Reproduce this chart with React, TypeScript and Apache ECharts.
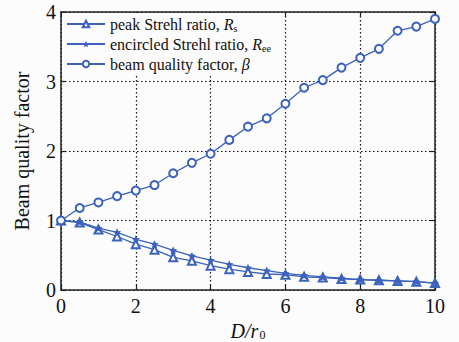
import React, { useEffect, useRef } from "react";
import * as echarts from "echarts";

const xValues = [0, 0.5, 1, 1.5, 2, 2.5, 3, 3.5, 4, 4.5, 5, 5.5, 6, 6.5, 7, 7.5, 8, 8.5, 9, 9.5, 10];
const peakStrehl = [1.0, 0.97, 0.87, 0.77, 0.66, 0.58, 0.47, 0.42, 0.35, 0.30, 0.26, 0.23, 0.22, 0.19, 0.18, 0.16, 0.15, 0.14, 0.13, 0.12, 0.10];
const encircledStrehl = [1.0, 0.98, 0.89, 0.83, 0.73, 0.66, 0.57, 0.49, 0.43, 0.37, 0.32, 0.28, 0.24, 0.21, 0.19, 0.17, 0.15, 0.14, 0.13, 0.12, 0.10];
const beamQuality = [1.0, 1.18, 1.26, 1.35, 1.43, 1.51, 1.68, 1.83, 1.96, 2.16, 2.35, 2.47, 2.68, 2.91, 3.02, 3.20, 3.34, 3.47, 3.73, 3.79, 3.90];
const seriesNames = ["peak Strehl ratio", "encircled Strehl ratio", "beam quality factor"];

const BLUE = "#3b62bd";
const FONT = "Liberation Serif";
const STAR = "path://M0,-10L2.9,-4L9.5,-3.1L4.7,1.5L5.9,8.1L0,5L-5.9,8.1L-4.7,1.5L-9.5,-3.1L-2.9,-4Z";

export default function App() {
  const ref = useRef<HTMLDivElement>(null);
  useEffect(() => {
    if (!ref.current) return;
    const chart = echarts.init(ref.current, null, { renderer: "svg" });
    const pair = (ys: number[]) => xValues.map((x, i) => [x, ys[i]]);
    const legendText: Record<string, string> = {
      [seriesNames[0]]: "{t|peak Strehl ratio, }{i|R}{s|s}",
      [seriesNames[1]]: "{t|encircled Strehl ratio, }{i|R}{s|ee}",
      [seriesNames[2]]: "{t|beam quality factor, }{i|β}",
    };
    const axisCommon = {
      axisLine: { show: true, onZero: false, lineStyle: { color: "#222", width: 1.5 } },
      axisTick: { show: true, inside: true, length: 5, lineStyle: { color: "#222", width: 1.2 } },
    };
    chart.setOption({
      animation: false,
      backgroundColor: "#fcfcfc",
      grid: { left: 61, right: 24, top: 12, bottom: 52, outerBoundsMode: "none", containLabel: false },
      legend: {
        orient: "vertical",
        left: 62,
        top: 13,
        itemGap: 3,
        itemWidth: 38,
        itemHeight: 8,
        padding: [3, 8, 3, 4],
        backgroundColor: "#fcfcfc",
        data: seriesNames,
        formatter: (n: string) => legendText[n],
        textStyle: {
          fontFamily: FONT,
          fontSize: 16,
          color: "#111",
          rich: {
            t: { fontFamily: FONT, fontSize: 16, color: "#111" },
            i: { fontFamily: FONT, fontSize: 16, fontStyle: "italic", color: "#111" },
            s: { fontFamily: FONT, fontSize: 10, color: "#111", padding: [8, 0, 0, 0] },
          },
        },
      },
      xAxis: [
        {
          type: "value",
          min: 0,
          max: 10,
          interval: 2,
          ...axisCommon,
          axisLabel: { fontFamily: FONT, fontSize: 20, color: "#111", margin: 6 },
          splitLine: { show: true, lineStyle: { color: "#111", type: [1.5, 2.5], width: 1.2 } },
          name: "{i|D/r}{s|0}",
          nameLocation: "middle",
          nameGap: 27,
          nameTextStyle: {
            rich: {
              i: { fontFamily: FONT, fontSize: 20, fontStyle: "italic", color: "#111" },
              s: { fontFamily: FONT, fontSize: 12, color: "#111", padding: [8, 0, 0, 1] },
            },
          },
        },
        {
          type: "value",
          position: "top",
          min: 0,
          max: 10,
          interval: 2,
          ...axisCommon,
          axisLabel: { show: false },
          splitLine: { show: false },
        },
      ],
      yAxis: [
        {
          type: "value",
          min: 0,
          max: 4,
          interval: 1,
          ...axisCommon,
          axisLabel: { fontFamily: FONT, fontSize: 20, color: "#111", margin: 5 },
          splitLine: { show: true, lineStyle: { color: "#111", type: [1.5, 2.5], width: 1.2 } },
          name: "Beam quality factor",
          nameLocation: "middle",
          nameGap: 29,
          nameTextStyle: { fontFamily: FONT, fontSize: 20, color: "#111" },
        },
        {
          type: "value",
          position: "right",
          min: 0,
          max: 4,
          interval: 1,
          ...axisCommon,
          axisLabel: { show: false },
          splitLine: { show: false },
        },
      ],
      series: [
        {
          name: seriesNames[0],
          type: "line",
          data: pair(peakStrehl),
          symbol: "emptyTriangle",
          symbolSize: 8,
          lineStyle: { color: BLUE, width: 1.3 },
          itemStyle: { color: BLUE, borderWidth: 1.3 },
        },
        {
          name: seriesNames[1],
          type: "line",
          data: pair(encircledStrehl),
          symbol: STAR,
          symbolSize: 8,
          lineStyle: { color: BLUE, width: 1.3 },
          itemStyle: { color: BLUE },
        },
        {
          name: seriesNames[2],
          type: "line",
          data: pair(beamQuality),
          symbol: "emptyCircle",
          symbolSize: 8,
          lineStyle: { color: BLUE, width: 1.3 },
          itemStyle: { color: BLUE, borderWidth: 1.3 },
        },
      ],
    });
    return () => chart.dispose();
  }, []);
  return <div ref={ref} style={{ width: 459, height: 342, position: "absolute", left: 0, top: 0 }} />;
}
